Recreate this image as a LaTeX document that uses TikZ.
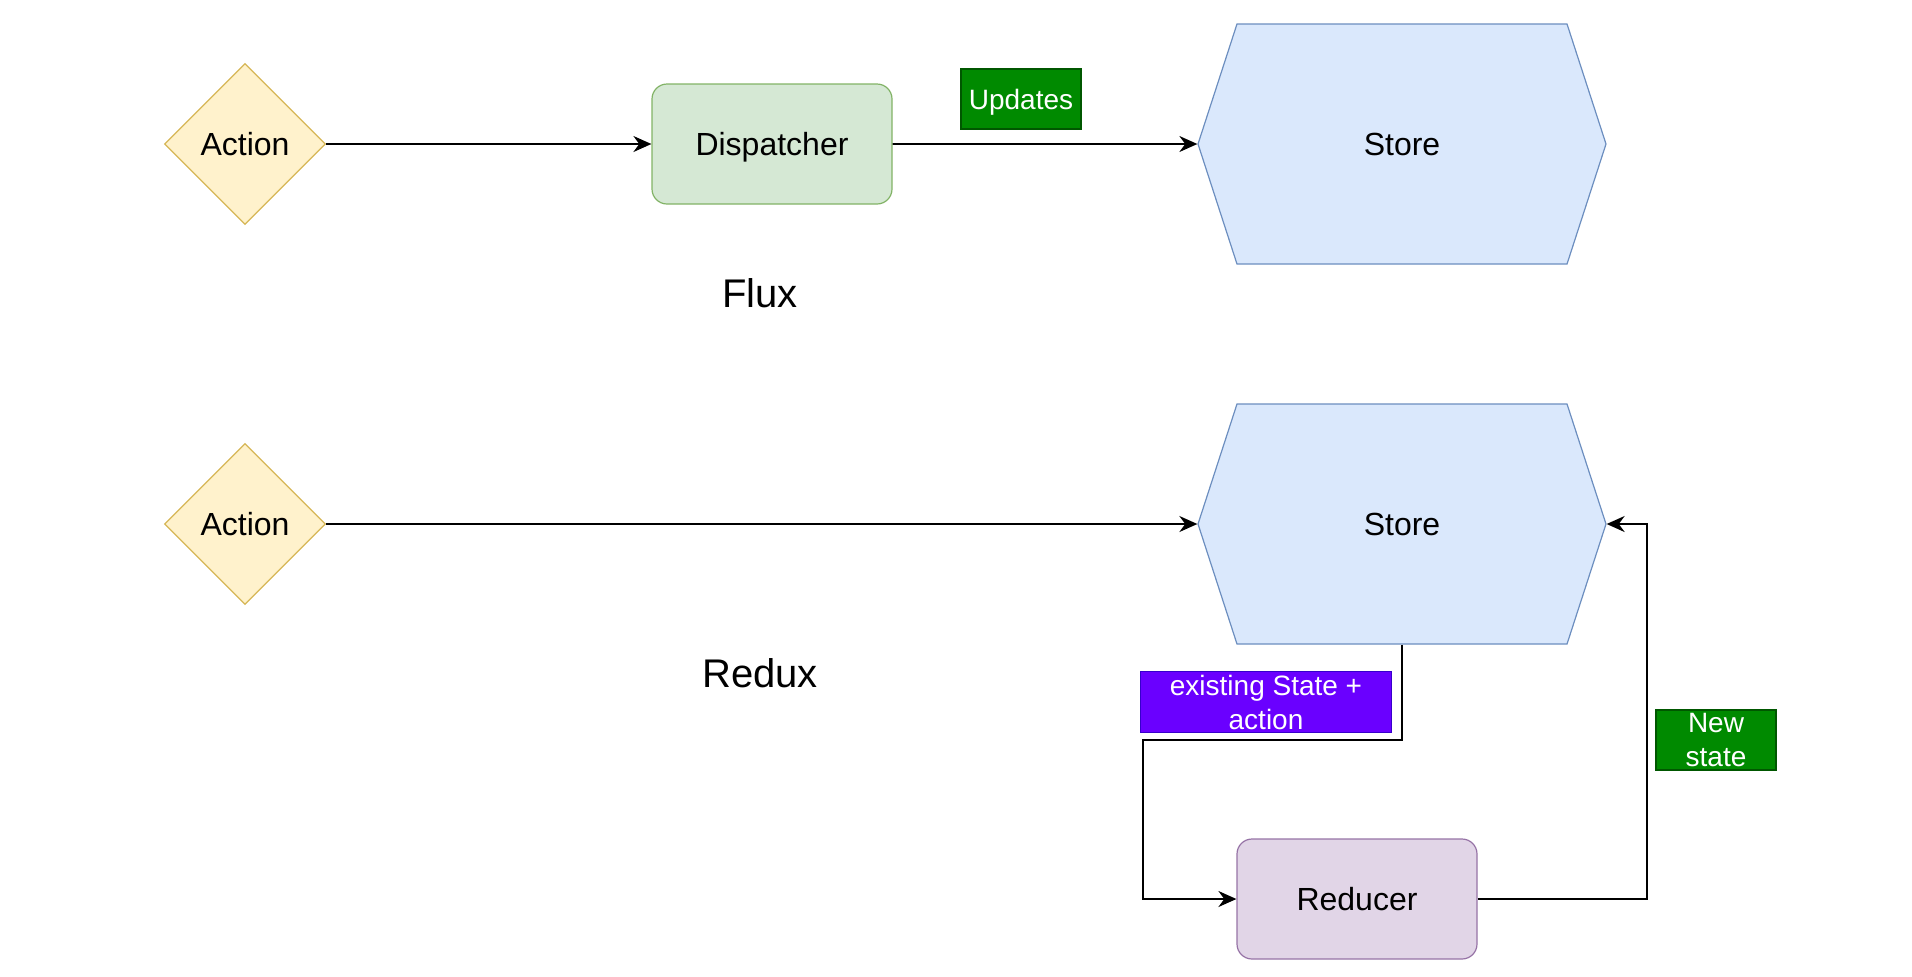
\documentclass[tikz,border=0pt]{standalone}
\usepackage{fontspec}
\setmainfont{Liberation Sans}
\usetikzlibrary{shapes.geometric, shapes.symbols, positioning, arrows.meta}

\definecolor{actfill}{HTML}{FFF2CC}
\definecolor{actline}{HTML}{D6B656}
\definecolor{dispfill}{HTML}{D5E8D4}
\definecolor{displine}{HTML}{82B366}
\definecolor{storefill}{HTML}{DAE8FC}
\definecolor{storeline}{HTML}{6C8EBF}
\definecolor{redfill}{HTML}{E1D5E7}
\definecolor{redline}{HTML}{9673A6}
\definecolor{tagfill}{HTML}{008A00}
\definecolor{tagline}{HTML}{005700}
\definecolor{purpfill}{HTML}{6A00FF}
\definecolor{purpline}{HTML}{3700CC}

\begin{document}
\begin{tikzpicture}[
    x=0.5pt, y=-0.5pt,
    font=\fontsize{16pt}{19pt}\selectfont,
    action/.style={diamond, draw=actline, fill=actfill, line width=0.6pt, minimum width=80.5pt, minimum height=80.5pt, inner sep=0pt},
    proc/.style={draw, line width=0.6pt, rounded corners=7.5pt, minimum width=120pt, minimum height=60pt},
    storebox/.style={signal, signal to=west and east, signal pointer angle=144, draw=storeline, fill=storefill, line width=0.6pt, minimum width=204pt, minimum height=120pt},
    tag/.style={draw, line width=0.6pt, text=white, align=center, inner sep=0pt, font=\fontsize{14pt}{17pt}\selectfont},
    title/.style={font=\fontsize{20pt}{24pt}\selectfont},
    link/.style={line width=0.9pt, -{Stealth[length=9pt, width=8pt]}}
]
\useasboundingbox (0,0) rectangle (1912,976);

% Flux
\node[action] (act1) at (245,144) {Action};
\node[proc, draw=displine, fill=dispfill, text depth=0pt] (disp) at (772,144) {Dispatcher};
\node[storebox] (store1) at (1402,144) {Store};
\node[tag, fill=tagfill, draw=tagline, minimum width=60pt, minimum height=30pt, text depth=0pt] (upd) at (1021,99) {Updates};
\node[title] (flux) at (760,293) {Flux};

\draw[link] (act1) -- (disp);
\draw[link] (disp) -- (store1);

% Redux
\node[action] (act2) at (245,524) {Action};
\node[storebox] (store2) at (1402,524) {Store};
\node[proc, draw=redline, fill=redfill] (red) at (1357,899) {Reducer};
\node[title] (redux) at (760,673) {Redux};
\node[tag, fill=purpfill, draw=purpline, minimum width=125.5pt, minimum height=30.5pt] (exist) at (1266,702) {existing State +\\action};
\node[tag, fill=tagfill, draw=tagline, minimum width=60pt, minimum height=30pt] (newst) at (1716,740) {New\\state};

\coordinate (c1) at (1143,740);
\coordinate (c2) at (1647,524);

\draw[link] (act2) -- (store2);
\draw[link] (store2.south) |- (c1) |- (red.west);
\draw[link] (red.east) -| (c2) -- (store2.east);

\end{tikzpicture}
\end{document}
